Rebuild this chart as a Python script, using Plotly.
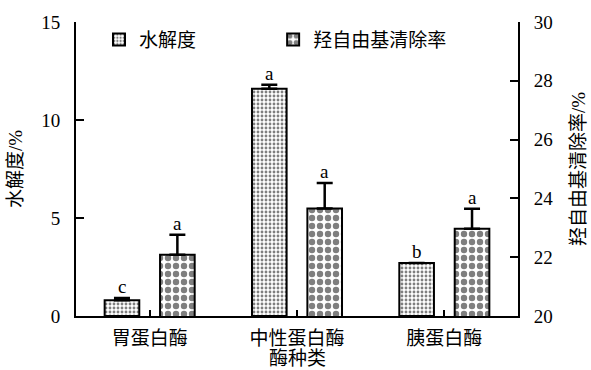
import plotly.graph_objects as go

# Enzyme types (x categories)
enzymes = ["胃蛋白酶", "中性蛋白酶", "胰蛋白酶"]

# Degree of hydrolysis (%), left axis
hydrolysis = [0.8, 11.6, 2.7]
hydrolysis_err = [0.12, 0.2, 0.0]
hydrolysis_sig = ["c", "a", "b"]

# Hydroxyl radical scavenging rate (%), right axis
scavenging = [22.08, 23.66, 22.97]
scavenging_err = [0.68, 0.86, 0.68]
scavenging_sig = ["a", "a", "a"]

LATIN_CJK = "Liberation Serif, Noto Sans CJK SC, serif"
BAR_W = 0.235
SHIFT = 0.188
FONT = dict(family=LATIN_CJK, size=19, color="black")

fig = go.Figure()

fig.add_trace(go.Bar(
    name="水解度", x=enzymes, y=hydrolysis, yaxis="y", legend="legend",
    width=BAR_W, offset=-SHIFT - BAR_W / 2,
    marker=dict(color="white", line=dict(color="black", width=2),
                pattern=dict(shape=".", size=4, solidity=0.4,
                             fgcolor="black", bgcolor="white", fillmode="overlay")),
    error_y=dict(type="data", array=hydrolysis_err, arrayminus=[0] * 3,
                 symmetric=False, color="black", thickness=2.5, width=8),
))

fig.add_trace(go.Bar(
    name="羟自由基清除率", x=enzymes, y=scavenging, yaxis="y2", legend="legend2",
    width=BAR_W, offset=SHIFT - BAR_W / 2,
    marker=dict(color="white", line=dict(color="black", width=2),
                pattern=dict(shape=".", size=8, solidity=0.5,
                             fgcolor="black", bgcolor="white", fillmode="overlay")),
    error_y=dict(type="data", array=scavenging_err, arrayminus=[0] * 3,
                 symmetric=False, color="black", thickness=2.5, width=8),
))

# Significance letters above the error bars
annotations = []
for i in range(len(enzymes)):
    annotations.append(dict(
        x=i - SHIFT, y=hydrolysis[i] + hydrolysis_err[i], xref="x", yref="y",
        text=hydrolysis_sig[i], showarrow=False, yanchor="bottom", yshift=-1,
        font=FONT))
    annotations.append(dict(
        x=i + SHIFT, y=scavenging[i] + scavenging_err[i], xref="x", yref="y2",
        text=scavenging_sig[i], showarrow=False, yanchor="bottom", yshift=-1,
        font=FONT))

# Right-hand axis title, reading bottom to top
annotations.append(dict(
    x=1.136, y=0.5, xref="paper", yref="paper", text="羟自由基清除率/%",
    textangle=-90, showarrow=False, xanchor="center", yanchor="middle", font=FONT))

# x-axis title below the category labels
annotations.append(dict(
    x=0.5, y=-0.145, xref="paper", yref="paper", text="酶种类",
    showarrow=False, xanchor="center", yanchor="middle", font=FONT))

axis_common = dict(showline=True, linecolor="black", linewidth=2, ticks="inside",
                   tickcolor="black", tickwidth=2, ticklen=8, showgrid=False,
                   zeroline=False, tickfont=FONT, automargin=False)

legend_common = dict(orientation="h", y=1.005, xanchor="left", yanchor="top",
                     font=FONT, bgcolor="rgba(0,0,0,0)")

fig.update_layout(
    width=591, height=370,
    margin=dict(l=76, r=73, t=22, b=54),
    plot_bgcolor="white", paper_bgcolor="white",
    barmode="overlay",
    showlegend=True,
    legend=dict(x=0.052, **legend_common),
    legend2=dict(x=0.446, **legend_common),
    xaxis=dict(type="category", range=[-0.5, 2.5], showline=True, linecolor="black",
               linewidth=2, ticks="inside", tickcolor="black", tickwidth=1.5, ticklen=6,
               showgrid=False, zeroline=False, ticklabelstandoff=4, automargin=False,
               tickfont=FONT),
    yaxis=dict(range=[0, 15], tickvals=[0, 5, 10, 15], ticklabelstandoff=10,
               title=dict(text="水解度/%", standoff=14, font=FONT),
               **axis_common),
    yaxis2=dict(range=[20, 30], tickvals=[20, 22, 24, 26, 28, 30], overlaying="y",
                side="right", ticklabelstandoff=10, **axis_common),
    annotations=annotations,
)

fig.write_html("out.html")
